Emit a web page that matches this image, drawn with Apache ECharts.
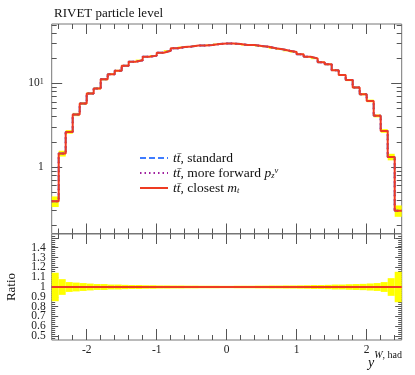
<!DOCTYPE html>
<html><head><meta charset="utf-8">
<script src="https://cdn.jsdelivr.net/npm/echarts@6/dist/echarts.min.js"></script>
<style>html,body{margin:0;padding:0;background:#fff}#c{width:415px;height:375px}</style>
</head><body><div id="c"></div>
<script>
// ---- data ----
const binWidth = 0.1;
const xMin = -2.5, xMax = 2.5;
const binLow = [];
for (let i = 0; i < 50; i++) binLow.push(Math.round((xMin + i * binWidth) * 10) / 10);

const valStandard = [0.388,1.45,2.63,4.25,5.75,7.59,8.71,11.2,12.9,14.2,16.3,18.2,18.9,20.9,21.5,23.3,24.6,26.3,27.2,27.6,28.4,28.5,28.8,29.6,30.0,30.0,29.6,28.8,28.8,28.0,27.5,26.3,25.6,24.6,23.7,22.3,20.8,19.9,17.9,16.9,14.4,12.6,10.96,8.96,7.44,6.18,4.09,2.70,1.32,0.30];
const valForward  = [0.388,1.45,2.63,4.25,5.75,7.59,8.71,11.2,12.9,14.2,16.3,18.2,18.9,20.9,21.5,23.3,24.6,26.3,27.2,27.6,28.4,28.5,28.8,29.6,30.0,30.0,29.6,28.8,28.8,28.0,27.5,26.3,25.6,24.6,23.7,22.3,20.8,19.9,17.9,16.9,14.4,12.6,10.96,8.96,7.44,6.18,4.09,2.70,1.32,0.30];
const valClosest  = [0.388,1.45,2.63,4.25,5.75,7.59,8.71,11.2,12.9,14.2,16.3,18.2,18.9,20.9,21.5,23.3,24.6,26.3,27.2,27.6,28.4,28.5,28.8,29.6,30.0,30.0,29.6,28.8,28.8,28.0,27.5,26.3,25.6,24.6,23.7,22.3,20.8,19.9,17.9,16.9,14.4,12.6,10.96,8.96,7.44,6.18,4.09,2.70,1.32,0.30];
// relative uncertainty of the reference (yellow band)
const relErr = [0.145,0.08,0.05,0.045,0.04,0.035,0.03,0.03,0.025,0.025,0.022,0.02,0.02,0.018,0.018,0.016,0.016,0.015,0.015,0.014,0.014,0.013,0.013,0.013,0.012,0.012,0.013,0.013,0.013,0.014,0.014,0.015,0.015,0.016,0.016,0.017,0.018,0.02,0.02,0.022,0.025,0.025,0.028,0.03,0.032,0.036,0.04,0.05,0.09,0.155];

const xMajorTicks = [-2,-1,0,1,2];
const xMinorTicks = [-2.4,-2.2,-1.8,-1.6,-1.4,-1.2,-0.8,-0.6,-0.4,-0.2,0.2,0.4,0.6,0.8,1.2,1.4,1.6,1.8,2.2,2.4];
const xTickLabels = [-2,-1,0,1,2];
const mainYMajor = [1,10];
const mainYMinor = [0.2,0.3,0.4,0.5,0.6,0.7,0.8,0.9,2,3,4,5,6,7,8,9,20,30,40,50];
const mainYLabels = [1,10];
const ratioYMajor = [0.5,0.6,0.7,0.8,0.9,1.0,1.1,1.2,1.3,1.4,1.5];
const ratioYLabelsA = [0.5,0.7,0.9,1.1,1.3];
const ratioYLabelsB = [0.6,0.8,1.0,1.2,1.4];
const ratioYMinor = [];
for (let k = 48; k <= 152; k += 2) { if (k % 10 !== 0) ratioYMinor.push(k / 100); }

const seriesNames = ['standard','forward','closest'];
const FONT = "'Liberation Serif','DejaVu Serif',serif";
const TICK = '#555';

// ---- axes ----
function xAx(grid, pos, ticks, len, labels) {
  return {
    type: 'value', gridIndex: grid, position: pos, min: xMin, max: xMax,
    axisLine: {show: false, onZero: false}, splitLine: {show: false},
    axisTick: {show: true, inside: true, length: len, customValues: ticks, lineStyle: {color: TICK, width: 1}},
    axisLabel: labels ? {show: true, customValues: labels, margin: 4, fontFamily: FONT, fontSize: 11.5, color: '#222',
      showMinLabel: true, showMaxLabel: true, hideOverlap: false,
      formatter: v => String(v)} : {show: false}
  };
}
function yAx(grid, pos, type, min, max, ticks, len, labels, fmt, margin) {
  return {
    type: type, gridIndex: grid, position: pos, min: min, max: max,
    axisLine: {show: false, onZero: false}, splitLine: {show: false},
    axisTick: ticks ? {show: true, inside: true, length: len, customValues: ticks, lineStyle: {color: TICK, width: 1}} : {show: false},
    axisLabel: labels ? {show: true, customValues: labels, margin: margin, fontFamily: FONT, fontSize: 11.5, color: '#222',
      showMinLabel: true, showMaxLabel: true, hideOverlap: false,
      formatter: fmt, rich: {s: {fontSize: 8, fontFamily: FONT, verticalAlign: 'top', color: '#222'}}} : {show: false}
  };
}
const yMainMin = 0.16, yMainMax = 51.4;
const yRatMin = 0.46, yRatMax = 1.54;

const xAxes = [
  xAx(0,'bottom',xMajorTicks,10,null), xAx(0,'bottom',xMinorTicks,5,null),
  xAx(0,'top',xMajorTicks,10,null), xAx(0,'top',xMinorTicks,5,null),
  xAx(1,'bottom',xMajorTicks,11,xTickLabels), xAx(1,'bottom',xMinorTicks,5,null),
  xAx(1,'top',xMajorTicks,10,null), xAx(1,'top',xMinorTicks,5,null)
];
const mainFmt = v => (Math.abs(v - 10) < 1e-6 ? '10{s|1}' : String(Math.round(v)));
const ratFmt = v => String(Math.round(v * 10) / 10);
const yAxes = [
  yAx(0,'left','log',yMainMin,yMainMax,mainYMajor,10.5,mainYLabels,mainFmt,8),
  yAx(0,'left','log',yMainMin,yMainMax,mainYMinor,5,null),
  yAx(0,'right','log',yMainMin,yMainMax,mainYMajor,10.5,null),
  yAx(0,'right','log',yMainMin,yMainMax,mainYMinor,5,null),
  yAx(1,'left','value',yRatMin,yRatMax,ratioYMajor,6.5,ratioYLabelsA,ratFmt,6),
  yAx(1,'left','value',yRatMin,yRatMax,ratioYMinor,3.5,null),
  yAx(1,'right','value',yRatMin,yRatMax,ratioYMajor,6.5,null),
  yAx(1,'right','value',yRatMin,yRatMax,ratioYMinor,3.5,null),
  yAx(1,'left','value',yRatMin,yRatMax,null,0,ratioYLabelsB,ratFmt,6)
];

// ---- series ----
function stepData(vals) {
  const d = binLow.map((x, i) => [x, vals[i]]);
  d.push([xMax, vals[vals.length - 1]]);
  return d;
}
function bandRender(params, api) {
  const a = api.coord([api.value(0), api.value(3)]);
  const b = api.coord([api.value(1), api.value(2)]);
  return {type: 'rect', shape: {x: a[0], y: a[1], width: b[0] - a[0], height: b[1] - a[1]},
    style: {fill: '#ffff00'}};
}
const mainBand = binLow.map((x, i) => [x, x + binWidth, valStandard[i] * (1 - relErr[i]), valStandard[i] * (1 + relErr[i])]);
const ratioBand = binLow.map((x, i) => [x, x + binWidth, 1 - relErr[i], 1 + relErr[i]]);
const ratioOf = vals => vals.map((v, i) => v / valStandard[i]);

const styles = {
  standard: {color: '#3f7cff', width: 2, type: [6, 3]},
  forward: {color: '#a0209f', width: 2, type: [1.5, 3]},
  closest: {color: '#ee3b22', width: 2, type: 'solid'}
};
const vals = {standard: valStandard, forward: valForward, closest: valClosest};

const series = [
  {type: 'custom', name: 'bandMain', xAxisIndex: 0, yAxisIndex: 0, renderItem: bandRender,
    encode: {x: [0, 1], y: [2, 3]}, data: mainBand, z: 1, silent: true},
  {type: 'custom', name: 'bandRatio', xAxisIndex: 4, yAxisIndex: 4, renderItem: bandRender,
    encode: {x: [0, 1], y: [2, 3]}, data: ratioBand, z: 1, silent: true}
];
seriesNames.forEach((n, k) => {
  series.push({type: 'line', name: n, xAxisIndex: 0, yAxisIndex: 0, step: 'end', symbol: 'none', showSymbol: false,
    data: stepData(vals[n]), lineStyle: styles[n], itemStyle: {color: styles[n].color}, z: 3 + k, silent: true});
  series.push({type: 'line', name: 'r_' + n, xAxisIndex: 4, yAxisIndex: 4, step: 'end', symbol: 'none', showSymbol: false,
    data: stepData(ratioOf(vals[n])), lineStyle: styles[n], itemStyle: {color: styles[n].color}, z: 3 + k, silent: true});
});

const legendText = {
  standard: '{i|tt\u0304}, standard',
  forward: '{i|tt\u0304}, more forward {i|p}{sub|z}{sup|\u03bd}',
  closest: '{i|tt\u0304}, closest {i|m}{sub|t}'
};

const option = {
  animation: false,
  backgroundColor: '#fff',
  title: {text: 'RIVET particle level', left: 49, top: 2,
    textStyle: {fontFamily: FONT, fontSize: 13, fontWeight: 'normal', color: '#111'}},
  grid: [
    {left: 51.7, right: 13.3, top: 24, height: 209.5, show: true, borderColor: '#777', borderWidth: 1, containLabel: false},
    {left: 51.7, right: 13.3, top: 234, height: 106, show: true, borderColor: '#777', borderWidth: 1, containLabel: false}
  ],
  xAxis: xAxes,
  yAxis: yAxes,
  legend: {
    data: seriesNames, orient: 'vertical', left: 134, top: 146, itemWidth: 28, itemHeight: 12, itemGap: 1,
    selectedMode: false, formatter: n => legendText[n],
    itemStyle: {color: 'rgba(0,0,0,0)', borderColor: 'rgba(0,0,0,0)', borderWidth: 0, opacity: 0},
    textStyle: {fontFamily: FONT, fontSize: 13.5, color: '#111', lineHeight: 14,
      rich: {
        i: {fontFamily: FONT, fontSize: 13.5, fontStyle: 'italic', color: '#111', lineHeight: 14},
        sub: {fontFamily: FONT, fontSize: 8.5, fontStyle: 'italic', color: '#111', verticalAlign: 'bottom', lineHeight: 14},
        sup: {fontFamily: FONT, fontSize: 8.5, fontStyle: 'italic', color: '#111', verticalAlign: 'top', lineHeight: 14}
      }}
  },
  graphic: [
    {type: 'text', x: 12, y: 287, rotation: Math.PI / 2,
      style: {text: 'Ratio', fontFamily: FONT, fontSize: 13, fill: '#111', align: 'center', verticalAlign: 'middle'}},
    {type: 'text', x: 402, y: 360,
      style: {text: '{i|y}{s|W}{t|, had}', align: 'right', verticalAlign: 'middle', fill: '#111',
        rich: {
          i: {fontFamily: FONT, fontSize: 14, fontStyle: 'italic', fill: '#111', lineHeight: 20, verticalAlign: 'bottom'},
          s: {fontFamily: FONT, fontSize: 10, fontStyle: 'italic', fill: '#111', lineHeight: 20, verticalAlign: 'top'},
          t: {fontFamily: FONT, fontSize: 10, fill: '#111', lineHeight: 20, verticalAlign: 'top'}
        }}}
  ],
  series: series
};
const chart = echarts.init(document.getElementById('c'));
chart.setOption(option);
</script>
</body></html>
